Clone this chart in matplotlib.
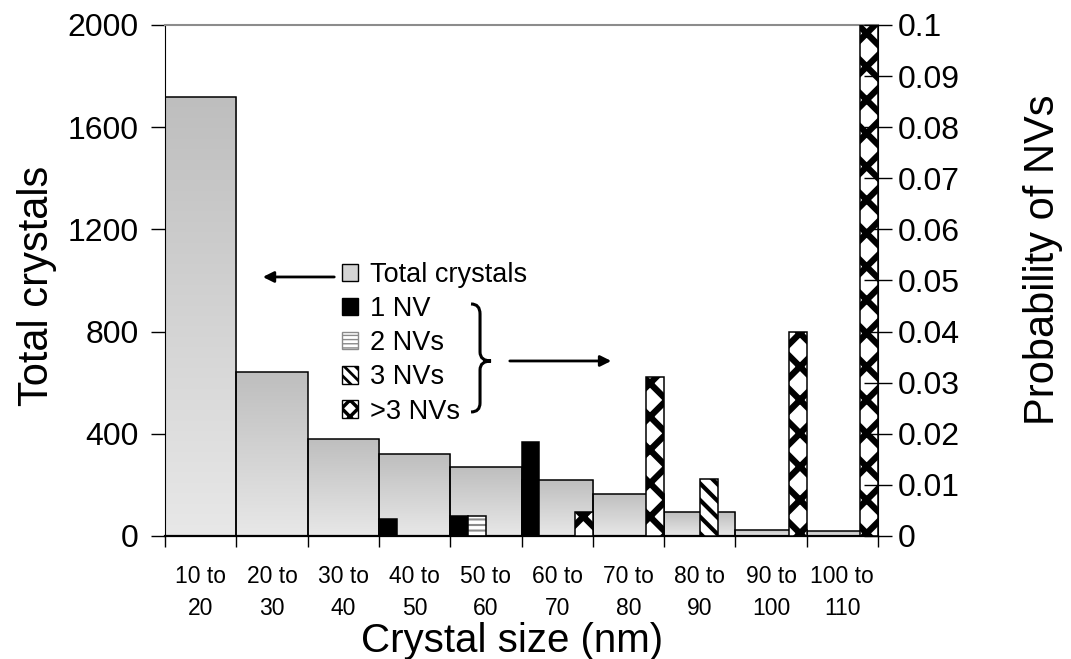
import numpy as np
import matplotlib.pyplot as plt
from matplotlib.colors import LinearSegmentedColormap
from matplotlib.patches import Patch, PathPatch
from matplotlib.path import Path
from matplotlib.ticker import FuncFormatter

# data
categories = ['10 to\n20', '20 to\n30', '30 to\n40', '40 to\n50', '50 to\n60',
              '60 to\n70', '70 to\n80', '80 to\n90', '90 to\n100', '100 to\n110']
total_crystals = [1720, 640, 380, 320, 270, 220, 165, 92, 25, 19]
p_1nv = [0, 0, 0, 0.0033, 0.0039, 0.0183, 0, 0, 0, 0]
p_2nv = [0, 0, 0, 0, 0.0039, 0, 0, 0, 0, 0]
p_3nv = [0, 0, 0, 0, 0, 0, 0, 0.0111, 0, 0]
p_more = [0, 0, 0, 0, 0, 0.0046, 0.0311, 0, 0.04, 0.1]
legend_labels = ['Total crystals', '1 NV', '2 NVs', '3 NVs', '>3 NVs']
left_ticks = [0, 400, 800, 1200, 1600, 2000]
right_ticks = np.arange(0, 0.1001, 0.01)

plt.rcParams['font.family'] = ['Liberation Sans', 'DejaVu Sans']
plt.rcParams['hatch.linewidth'] = 1.5

fig = plt.figure(figsize=(10.71, 6.59), dpi=100)
ax = fig.add_axes([0.1541, 0.1867, 0.6657, 0.7754])
ax2 = ax.twinx()
x = np.arange(len(categories))


def set_hlw(patches, lw):
    for p in patches:
        try:
            p.set_hatch_linewidth(lw)
        except AttributeError:
            pass


# total crystals: bars with a vertical grey gradient
gray = LinearSegmentedColormap.from_list('g', ['#e8e8e8', '#bebebe'])
grad = np.linspace(0, 1, 256).reshape(-1, 1)
bars = ax.bar(x, total_crystals, width=1.0, facecolor='none',
              edgecolor='black', linewidth=1.1, zorder=3)
for b in bars:
    x0, w, h = b.get_x(), b.get_width(), b.get_height()
    im = ax.imshow(grad, extent=[x0, x0 + w, 0, h], origin='lower',
                   cmap=gray, aspect='auto', zorder=2)
    im.set_clip_path(b)

# NV probabilities on the right axis, 4 slots per category
slot = 0.25
offs = [-0.375, -0.125, 0.125, 0.375]
ax2.bar(x + offs[0], p_1nv, slot, color='black', edgecolor='black', lw=1.1)
b2 = ax2.bar(x + offs[1], p_2nv, slot, facecolor='white', edgecolor='#8a8a8a',
             hatch='---', lw=0)
set_hlw(b2, 1.5)
ax2.bar(x + offs[1], p_2nv, slot, facecolor='none', edgecolor='black', lw=1.1)
b3 = ax2.bar(x + offs[2], p_3nv, slot, facecolor='white', edgecolor='black',
             hatch='\\\\', lw=1.1)
set_hlw(b3, 3.0)
b4 = ax2.bar(x + offs[3], p_more, slot, facecolor='white', edgecolor='black',
             hatch='x', lw=1.1)
set_hlw(b4, 4.5)

ax.set_xlim(-0.5, 9.5)
ax.set_ylim(0, 2000)
ax2.set_ylim(0, 0.1)

# axes styling
ax.spines['top'].set_color('#8c8c8c')
ax.spines['top'].set_linewidth(1.5)
ax.spines['bottom'].set_linewidth(1.6)
ax.spines['right'].set_visible(False)
for s in ['top', 'left', 'bottom']:
    ax2.spines[s].set_visible(False)

ax.set_yticks(left_ticks)
ax.tick_params(axis='y', direction='out', length=10, width=1, labelsize=23, pad=9)
ax.set_xticks(x)
ax.set_xticklabels(categories, linespacing=1.5)
ax.set_xticks(np.arange(-0.5, 10, 1), minor=True)
ax.tick_params(axis='x', which='major', length=0, pad=21, labelsize=16.5)
ax.tick_params(axis='x', which='minor', length=8, width=1, direction='out')

ax2.set_yticks(right_ticks)
ax2.yaxis.set_major_formatter(FuncFormatter(lambda v, _: '%g' % round(v, 2)))
ax2.tick_params(axis='y', direction='inout', length=20, width=1, labelsize=23, pad=4)

ax.set_xlabel('Crystal size (nm)', fontsize=29)
ax.xaxis.set_label_coords(0.487, -0.168)
ax.set_ylabel('Total crystals', fontsize=30)
ax.yaxis.set_label_coords(-0.151, 0.49)
ax2.set_ylabel('Probability of NVs', fontsize=30)
ax2.yaxis.set_label_coords(1.204, 0.54)

# legend
handles = [Patch(facecolor='#d4d4d4', edgecolor='black'),
           Patch(facecolor='black', edgecolor='black'),
           Patch(facecolor='white', edgecolor='#8a8a8a', hatch='----'),
           Patch(facecolor='white', edgecolor='black', hatch='\\\\\\'),
           Patch(facecolor='white', edgecolor='black', hatch='xx')]
set_hlw(handles[2:3], 1.0)
set_hlw(handles[3:4], 2.0)
set_hlw(handles[4:], 2.5)
leg = ax2.legend(handles, legend_labels, loc='upper left', bbox_to_anchor=(0.248, 0.536),
                 frameon=False, fontsize=19.5, handlelength=0.6, handleheight=0.6,
                 handletextpad=0.45, labelspacing=0.3, borderpad=0, borderaxespad=0)
# keep the hatch widths on the legend's own copies of the handles
for src, dst in zip(handles, leg.get_patches()):
    try:
        dst.set_hatch_linewidth(src.get_hatch_linewidth())
    except AttributeError:
        pass


# arrows and brace (positions in pixels of the original, mapped to axes fraction)
def px(xp, yp):
    return ((xp - 165) / 713, (536 - yp) / 511)


ax2.annotate('', xy=px(260, 277), xytext=px(337, 277), xycoords='axes fraction',
             arrowprops=dict(arrowstyle='-|>', lw=2, color='black', mutation_scale=16))
ax2.annotate('', xy=px(614, 361), xytext=px(507, 361), xycoords='axes fraction',
             arrowprops=dict(arrowstyle='-|>', lw=2, color='black', mutation_scale=16))

brace_pts = [px(471, 304), px(480, 304), px(480, 314), px(480, 352),
             px(480, 361), px(491, 361), px(480, 361), px(480, 370),
             px(480, 403), px(480, 412), px(471, 412)]
codes = [Path.MOVETO, Path.CURVE3, Path.CURVE3, Path.LINETO,
         Path.CURVE3, Path.CURVE3, Path.CURVE3, Path.CURVE3,
         Path.LINETO, Path.CURVE3, Path.CURVE3]
ax2.add_patch(PathPatch(Path(brace_pts, codes), transform=ax2.transAxes,
                        fill=False, lw=2.2, color='black', clip_on=False))

fig.savefig('out.png', dpi=100)
